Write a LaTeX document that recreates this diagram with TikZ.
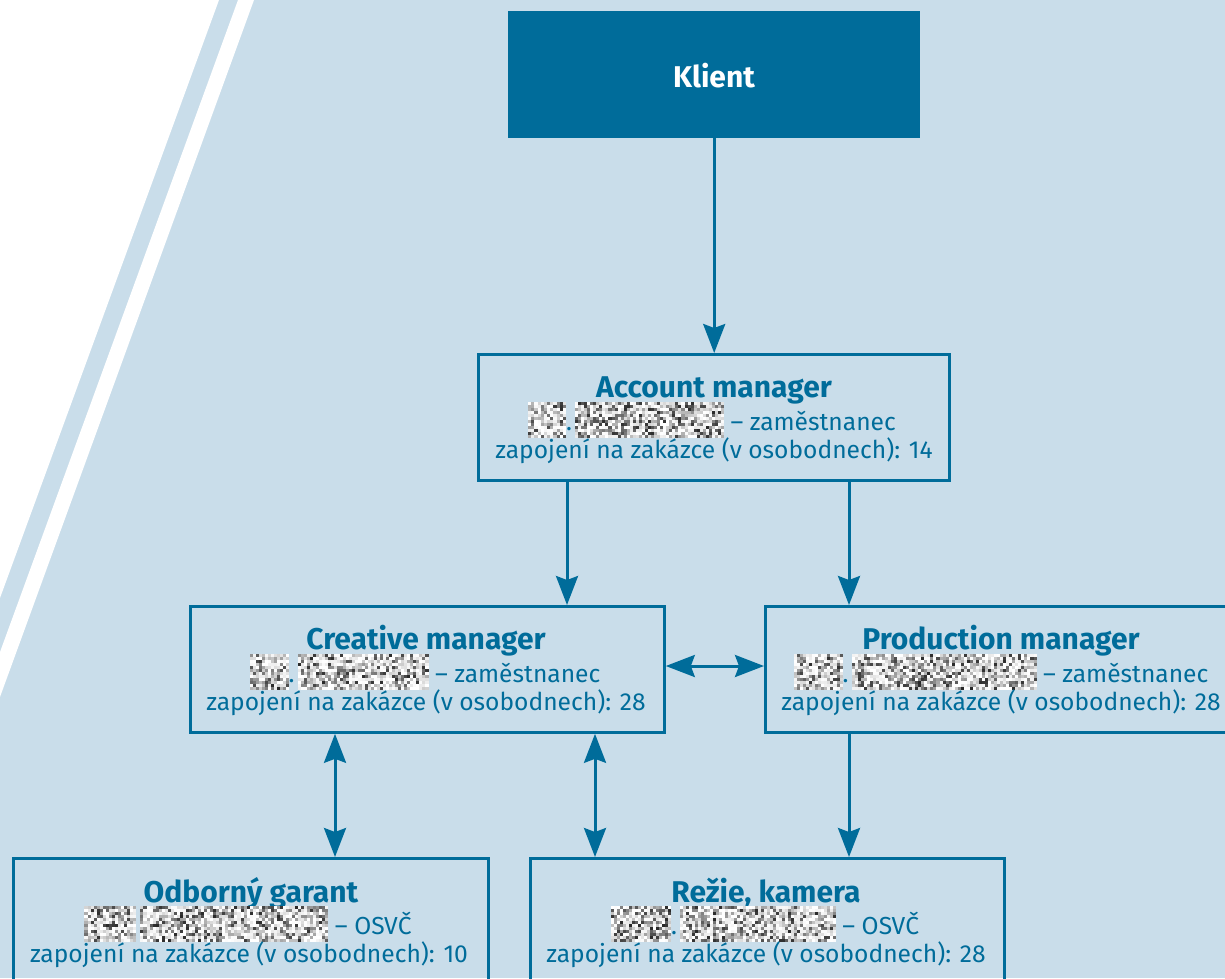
\documentclass[tikz,border=0pt]{standalone}
\usepackage{fontspec}
\setmainfont{Fira Sans}
\usetikzlibrary{arrows.meta}
\definecolor{bgblue}{HTML}{C9DDEA}
\definecolor{dblue}{HTML}{006C9A}
\newcommand\redact[2]{\tikz[x=1pt,y=1pt,baseline=0pt]{%
  \pgfmathsetseed{#2}%
  \pgfmathtruncatemacro\nc{#1/3}%
  \fill[white] (0,-8) rectangle (#1,28);%
  \foreach \i in {1,...,\nc}{\foreach \j in {1,...,12}{%
    \pgfmathtruncatemacro\g{85*rnd^2.2}%
    \fill[black!\g] ({(\i-1)*#1/\nc},{-8+(\j-1)*3}) rectangle ++({#1/\nc},3);}}}}
\tikzset{
  box/.style={draw=dblue, line width=2.8pt, minimum height=126pt, inner sep=0pt, anchor=north west},
  hd/.style={anchor=base, text=dblue, font=\fontsize{30}{33}\selectfont\bfseries, inner sep=0pt},
  tx/.style={anchor=base, text=dblue, font=\fontsize{24.6}{28}\selectfont, inner sep=0pt},
  tipst/.tip={Stealth[length=29pt,width=22pt,inset=4pt]},
  arr/.style={color=dblue, line width=3pt, -tipst},
  darr/.style={color=dblue, line width=3pt, tipst-tipst}
}
\begin{document}
\begin{tikzpicture}[x=1pt,y=-1pt]
\useasboundingbox (0,0) rectangle (1225,978);
\begin{scope}
\clip (0,0) rectangle (1225,978);
\fill[bgblue] (0,0) rectangle (1225,978);
\fill[white] (0,0) -- (219,0) -- (0,598) -- cycle;
\fill[white] (238,0) -- (254,0) -- (0,697) -- (0,652) -- cycle;

% Klient
\node[fill=dblue, minimum width=412pt, minimum height=127pt, inner sep=0pt, anchor=north west] (kl) at (508,11) {};
\node[anchor=base, text=white, font=\fontsize{30}{34}\selectfont\bfseries, inner sep=0pt] (klt) at (714,87) {Klient};

% Account manager
\node[box, minimum width=471pt] (am) at (477,353) {};
\node[hd] (amh) at (714,397) {Account manager};
\node[tx] (amn) at (712,430) {\redact{38}{11}.\hspace{3pt}\redact{149}{12} – zaměstnanec};
\node[tx] (amz) at (714,458) {zapojení na zakázce (v osobodnech): 14};

% Creative manager
\node[box, minimum width=474pt] (cm) at (189,605) {};
\node[hd] (cmh) at (426,649) {Creative manager};
\node[tx] (cmn) at (425,682) {\redact{39}{21}.\hspace{3pt}\redact{131}{22} – zaměstnanec};
\node[tx] (cmz) at (426,710) {zapojení na zakázce (v osobodnech): 28};

% Production manager
\node[box, minimum width=474pt] (pm) at (764,605) {};
\node[hd] (pmh) at (1001,649) {Production manager};
\node[tx] (pmn) at (1001,682) {\redact{49}{31}.\hspace{3pt}\redact{185}{32} – zaměstnanec};
\node[tx] (pmz) at (1001,710) {zapojení na zakázce (v osobodnech): 28};

% Odborny garant
\node[box, minimum width=475pt] (og) at (12,857) {};
\node[hd] (ogh) at (251,902) {Odborný garant};
\node[tx] (ogn) at (248,934) {\redact{52}{41}\hspace{4pt}\redact{188}{42} – OSVČ};
\node[tx] (ogz) at (249,962) {zapojení na zakázce (v osobodnech): 10};

% Rezie, kamera
\node[box, minimum width=474pt] (rk) at (529,857) {};
\node[hd] (rkh) at (766,902) {Režie, kamera};
\node[tx] (rkn) at (765,934) {\redact{60}{51}.\hspace{3pt}\redact{156}{52} – OSVČ};
\node[tx] (rkz) at (766,962) {zapojení na zakázce (v osobodnech): 28};

% connectors
\coordinate (xa) at (567,0);
\coordinate (xb) at (849,0);
\coordinate (xc) at (335,0);
\coordinate (xd) at (595,0);
\coordinate (yh) at (0,666);
\draw[arr] (kl.south) -- (kl.south |- am.north);
\draw[arr] (am.south -| xa) -- (cm.north -| xa);
\draw[arr] (am.south -| xb) -- (pm.north -| xb);
\draw[darr] (cm.east |- yh) -- (pm.west |- yh);
\draw[darr] (cm.south -| xc) -- (og.north -| xc);
\draw[darr] (cm.south -| xd) -- (rk.north -| xd);
\draw[arr] (pm.south -| xb) -- (rk.north -| xb);
\end{scope}
\end{tikzpicture}
\end{document}
